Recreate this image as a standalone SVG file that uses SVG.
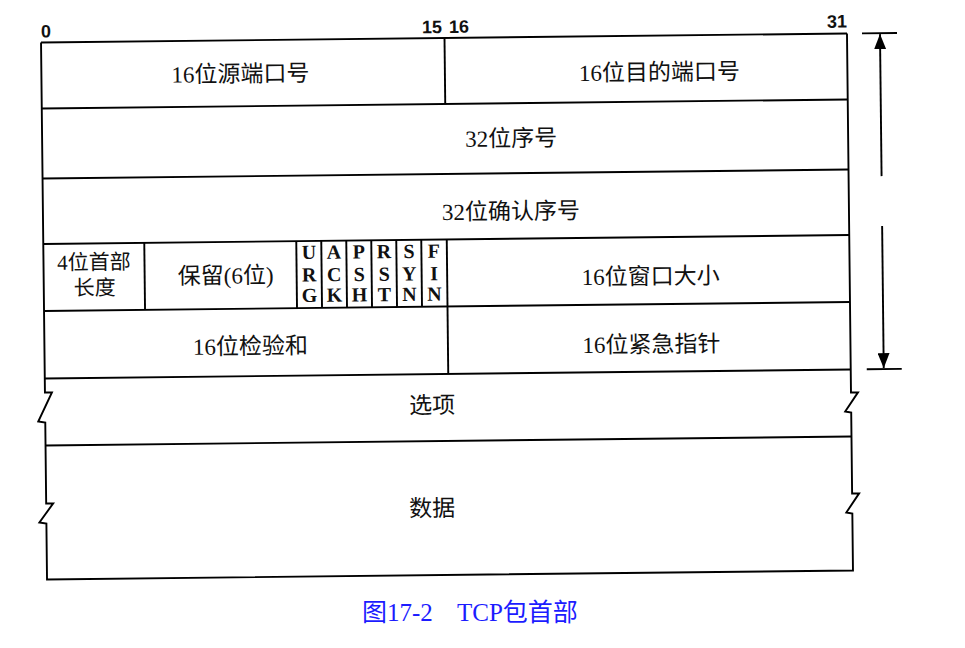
<svg xmlns="http://www.w3.org/2000/svg" width="965" height="648" viewBox="0 0 965 648">
<style>
.ln{stroke:#000;stroke-width:1.9;fill:none;stroke-linejoin:miter}
.t{font-family:"Liberation Serif","Noto Sans CJK SC",serif;font-size:23px;fill:#111;text-anchor:middle}
.ts{font-size:21px}
.f{font-family:"Liberation Serif","DejaVu Serif",serif;font-weight:bold;font-size:20px;fill:#111;text-anchor:middle}
.b{font-family:"Liberation Sans",Arial,sans-serif;font-weight:bold;font-size:18px;fill:#111}
.cap{font-family:"Liberation Serif","Noto Sans CJK SC",serif;font-size:25px;fill:#1c1cff}
</style>
<defs>
<marker id="ah" viewBox="0 0 15 12" refX="15" refY="6" markerWidth="15" markerHeight="12" markerUnits="userSpaceOnUse" orient="auto">
<path d="M0,0 L15,6 L0,12 Z" fill="#000"/>
</marker>
</defs>
<g transform="rotate(-0.64 445 306)">
<g id="frame">
<polyline class="ln" points="44,38 850,38"/>
<polyline class="ln" points="44,38 44,388 51,388 37,417 44,418 44,499 51,499 37,518 44,519 44,575 850,575 850,518 844,517 857,498 850,498 850,417 844,416 857,397 850,397 850,38"/>
<line class="ln" x1="44" y1="104" x2="850" y2="104"/>
<line class="ln" x1="44" y1="174" x2="850" y2="174"/>
<line class="ln" x1="44" y1="239.5" x2="850" y2="239.5"/>
<line class="ln" x1="44" y1="306.5" x2="850" y2="306.5"/>
<line class="ln" x1="44" y1="374" x2="850" y2="374"/>
<line class="ln" x1="44" y1="441" x2="850" y2="441"/>
<line class="ln" x1="447.5" y1="38" x2="447.5" y2="104"/>
<line class="ln" x1="145" y1="239.5" x2="145" y2="306.5"/>
<line class="ln" x1="297" y1="239.5" x2="297" y2="306.5"/>
<line class="ln" x1="322" y1="239.5" x2="322" y2="306.5"/>
<line class="ln" x1="347" y1="239.5" x2="347" y2="306.5"/>
<line class="ln" x1="372" y1="239.5" x2="372" y2="306.5"/>
<line class="ln" x1="397" y1="239.5" x2="397" y2="306.5"/>
<line class="ln" x1="422" y1="239.5" x2="422" y2="306.5"/>
<line class="ln" x1="447.5" y1="239.5" x2="447.5" y2="374"/>
</g>
<g id="bits">
<text class="b" x="44" y="33">0</text>
<text class="b" x="425" y="33">15</text>
<text class="b" x="452" y="33">16</text>
<text class="b" x="830" y="32">31</text>
</g>
<g id="src-port"><text class="t" x="243" y="79.5">16位源端口号</text></g>
<g id="dst-port"><text class="t" x="662" y="82.5">16位目的端口号</text></g>
<g id="seq"><text class="t" x="513" y="147">32位序号</text></g>
<g id="ack"><text class="t" x="512" y="220">32位确认序号</text></g>
<g id="hlen"><text class="t ts" x="94.5" y="265.5">4位首部</text><text class="t ts" x="95" y="291">长度</text></g>
<g id="reserved"><text class="t" x="226" y="281">保留(6位)</text></g>
<g id="flags">
<text class="f" x="309.5" y="257.5">U</text><text class="f" x="309.5" y="280">R</text><text class="f" x="309.5" y="300.5">G</text>
<text class="f" x="334.5" y="257.5">A</text><text class="f" x="334.5" y="280">C</text><text class="f" x="334.5" y="300.5">K</text>
<text class="f" x="359.5" y="257.5">P</text><text class="f" x="359.5" y="280">S</text><text class="f" x="359.5" y="300.5">H</text>
<text class="f" x="384.5" y="257.5">R</text><text class="f" x="384.5" y="280">S</text><text class="f" x="384.5" y="300.5">T</text>
<text class="f" x="409.5" y="257.5">S</text><text class="f" x="409.5" y="280">Y</text><text class="f" x="409.5" y="300.5">N</text>
<text class="f" x="434.5" y="257.5">F</text><text class="f" x="434.5" y="280">I</text><text class="f" x="434.5" y="300.5">N</text>
</g>
<g id="window"><text class="t" x="651" y="286.5">16位窗口大小</text></g>
<g id="checksum"><text class="t" x="250" y="352">16位检验和</text></g>
<g id="urgent"><text class="t" x="651" y="354.5">16位紧急指针</text></g>
<g id="options"><text class="t" x="431" y="413">选项</text></g>
<g id="data"><text class="t" x="430" y="516">数据</text></g>
<g id="connectors">
<line class="ln" x1="865" y1="38" x2="900" y2="38"/>
<line class="ln" x1="866" y1="374" x2="901" y2="374"/>
<line class="ln" x1="883" y1="181" x2="883" y2="39" marker-end="url(#ah)"/>
<line class="ln" x1="883" y1="231" x2="883" y2="373" marker-end="url(#ah)"/>
</g>
</g>
<g id="caption">
<text class="cap" x="362" y="621">图17-2</text>
<text class="cap" x="457" y="621">TCP包首部</text>
</g>
</svg>
